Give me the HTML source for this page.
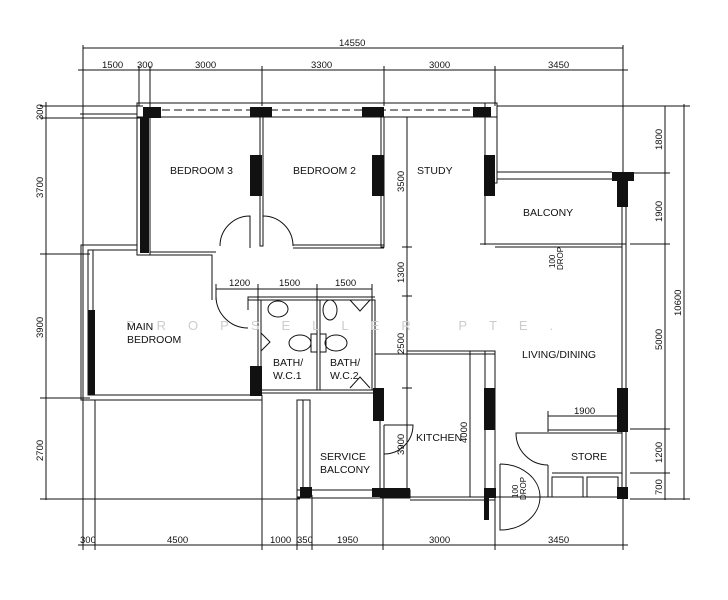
<!DOCTYPE html>
<html><head><meta charset="utf-8"><style>
html,body{margin:0;padding:0;background:#fff;}
svg{display:block}
text{font-family:"Liberation Sans Narrow","Liberation Sans",sans-serif;font-size:10.5px;fill:#111}
.d{font-size:9.5px}
</style></head><body>
<svg width="728" height="600" viewBox="0 0 728 600" xmlns="http://www.w3.org/2000/svg">
<g stroke="#111" stroke-width="1" fill="none">
<!-- top dims -->
<line x1="83" y1="48" x2="623" y2="48"/>
<line x1="78" y1="70" x2="628" y2="70"/>
<line x1="83" y1="45" x2="83" y2="400"/>
<line x1="139" y1="66" x2="139" y2="106"/>
<line x1="150" y1="66" x2="150" y2="106"/>
<line x1="262" y1="66" x2="262" y2="106"/>
<line x1="384" y1="66" x2="384" y2="106"/>
<line x1="495" y1="66" x2="495" y2="106"/>
<line x1="623" y1="45" x2="623" y2="175"/>
<!-- left dims -->
<line x1="46" y1="102" x2="46" y2="500"/>
<line x1="40" y1="106" x2="143" y2="106"/>
<line x1="40" y1="118" x2="143" y2="118"/>
<line x1="40" y1="254" x2="90" y2="254"/>
<line x1="40" y1="398" x2="90" y2="398"/>
<line x1="40" y1="499" x2="300" y2="499"/>
<!-- right dims -->
<line x1="665" y1="106" x2="665" y2="500"/>
<line x1="684" y1="104" x2="684" y2="500"/>
<line x1="497" y1="106" x2="690" y2="106"/>
<line x1="630" y1="173" x2="670" y2="173"/>
<line x1="630" y1="244" x2="670" y2="244"/>
<line x1="630" y1="429" x2="670" y2="429"/>
<line x1="630" y1="473" x2="670" y2="473"/>
<line x1="630" y1="499" x2="690" y2="499"/>
<!-- bottom dims -->
<line x1="78" y1="545" x2="628" y2="545"/>
<line x1="83" y1="400" x2="83" y2="550"/>
<line x1="95" y1="400" x2="95" y2="550"/>
<line x1="262" y1="395" x2="262" y2="550"/>
<line x1="297" y1="495" x2="297" y2="550"/>
<line x1="312" y1="495" x2="312" y2="550"/>
<line x1="383" y1="495" x2="383" y2="550"/>
<line x1="495" y1="495" x2="495" y2="550"/>
<line x1="623" y1="495" x2="623" y2="550"/>
<!-- inner dims -->
<line x1="407" y1="117" x2="407" y2="498"/>
<line x1="402" y1="247" x2="412" y2="247"/>
<line x1="402" y1="296" x2="412" y2="296"/>
<line x1="402" y1="388" x2="412" y2="388"/>
<line x1="216" y1="289" x2="372" y2="289"/>
<line x1="216" y1="284" x2="216" y2="300"/>
<line x1="258" y1="284" x2="258" y2="300"/>
<line x1="317" y1="284" x2="317" y2="300"/>
<line x1="372" y1="284" x2="372" y2="300"/>
<line x1="470" y1="351" x2="470" y2="497"/>
<line x1="548" y1="416" x2="617" y2="416"/>
<line x1="548" y1="411" x2="548" y2="432"/>

<!-- top wall -->
<rect x="137" y="103" width="360" height="14"/>
<line x1="150" y1="110" x2="485" y2="110" stroke-dasharray="8,4"/>
<line x1="80" y1="114" x2="137" y2="114"/>
<!-- left bedroom3 wall -->
<rect x="137" y="103" width="13" height="152"/>
<!-- main bedroom outer -->
<polyline points="137,245 81,245 81,400 262,400"/>
<polyline points="137,250 88,250 88,395 262,395"/>
<line x1="93" y1="250" x2="93" y2="395"/>
<!-- bedroom partitions -->
<rect x="260" y="117" width="3" height="129"/>
<rect x="381" y="117" width="3" height="130"/>
<line x1="293" y1="245" x2="384" y2="245"/>
<line x1="293" y1="248" x2="384" y2="248"/>
<line x1="250" y1="245" x2="250" y2="248"/>
<!-- corridor left wall segment -->
<polyline points="150,255 212,255 212,300"/>
<polyline points="150,252 216,252"/>
<!-- door arcs bedrooms -->
<path d="M250,245 L250,216 A30,30 0 0 0 220,246"/>
<path d="M263,216 A30,30 0 0 1 293,246"/>
<path d="M216,296 A32,32 0 0 0 248,328"/>
<!-- study right / balcony -->
<rect x="485" y="103" width="12" height="80"/>
<line x1="485" y1="183" x2="485" y2="245"/>
<line x1="497" y1="172" x2="612" y2="172"/>
<line x1="497" y1="179" x2="612" y2="179"/>
<line x1="480" y1="244" x2="626" y2="244"/>
<line x1="495" y1="247" x2="622" y2="247"/>
<line x1="622" y1="200" x2="622" y2="497"/>
<line x1="626" y1="200" x2="626" y2="497"/>
<!-- baths -->
<polyline points="248,310 248,297 375,297"/>
<line x1="248" y1="300" x2="375" y2="300"/>
<rect x="258" y="300" width="3" height="90"/>
<rect x="317" y="300" width="3" height="90"/>
<rect x="372" y="300" width="3" height="90"/>
<line x1="262" y1="390" x2="375" y2="390"/>
<line x1="262" y1="393" x2="375" y2="393"/>
<ellipse cx="278" cy="309" rx="10" ry="8"/>
<ellipse cx="300" cy="343" rx="11" ry="8"/>
<rect x="311" y="334" width="6" height="18"/>
<ellipse cx="336" cy="343" rx="11" ry="8"/>
<rect x="320" y="334" width="6" height="18"/>
<ellipse cx="330" cy="310" rx="7" ry="10"/>
<polyline points="350,300 360,311 370,300"/>
<polyline points="350,388 360,377 370,388"/>
<polyline points="261,333 270,342 261,351"/>
<!-- service balcony -->
<rect x="297" y="400" width="13" height="97"/>
<line x1="303" y1="400" x2="303" y2="497"/>
<rect x="297" y="490" width="113" height="8"/>
<line x1="380" y1="393" x2="380" y2="492"/>
<line x1="384" y1="425" x2="384" y2="492"/>
<path d="M384,425 L413,425 A29,29 0 0 1 384,454"/>
<!-- kitchen -->
<line x1="407" y1="351" x2="495" y2="351"/>
<line x1="375" y1="354" x2="495" y2="354"/>
<rect x="485" y="351" width="10" height="146"/>
<line x1="380" y1="497" x2="495" y2="497"/>
<line x1="410" y1="500" x2="495" y2="500"/>
<!-- store -->
<line x1="548" y1="430" x2="622" y2="430"/>
<line x1="548" y1="433" x2="622" y2="433"/>
<line x1="548" y1="465" x2="548" y2="497"/>
<line x1="552" y1="473" x2="622" y2="473"/>
<rect x="552" y="477" width="31" height="20"/>
<rect x="587" y="477" width="31" height="20"/>
<path d="M548,465 A32,32 0 0 1 516,433 L548,433"/>
<line x1="495" y1="497" x2="622" y2="497"/>
<!-- entry door -->
<path d="M500,464 L500,530 A40,33 0 0 0 500,464"/>
</g>
<!-- black columns -->
<g fill="#111">
<rect x="143" y="107" width="18" height="11"/>
<rect x="140" y="118" width="9" height="135"/>
<rect x="250" y="107" width="22" height="10"/>
<rect x="362" y="107" width="22" height="10"/>
<rect x="473" y="107" width="18" height="10"/>
<rect x="250" y="155" width="12" height="41"/>
<rect x="372" y="155" width="12" height="41"/>
<rect x="484" y="155" width="11" height="41"/>
<rect x="612" y="172" width="22" height="9"/>
<rect x="617" y="181" width="11" height="26"/>
<rect x="88" y="310" width="7" height="85"/>
<rect x="250" y="366" width="12" height="30"/>
<rect x="300" y="487" width="12" height="10"/>
<rect x="373" y="388" width="11" height="33"/>
<rect x="372" y="488" width="38" height="9"/>
<rect x="484" y="388" width="11" height="42"/>
<rect x="617" y="388" width="11" height="44"/>
<rect x="484" y="488" width="12" height="10"/>
<rect x="484" y="498" width="5" height="22"/>
<rect x="617" y="487" width="11" height="12"/>
</g>
<!-- watermark -->
<text x="126" y="330" style="fill:#ccc;font-size:13px;letter-spacing:22px">PROPSELLER PTE.</text>
<!-- labels -->
<text x="170" y="174">BEDROOM 3</text>
<text x="293" y="174">BEDROOM 2</text>
<text x="417" y="174">STUDY</text>
<text x="523" y="216">BALCONY</text>
<text x="127" y="330">MAIN</text>
<text x="127" y="343">BEDROOM</text>
<text x="273" y="366">BATH/</text>
<text x="273" y="379">W.C.1</text>
<text x="330" y="366">BATH/</text>
<text x="330" y="379">W.C.2</text>
<text x="522" y="358">LIVING/DINING</text>
<text x="416" y="441">KITCHEN</text>
<text x="320" y="460">SERVICE</text>
<text x="320" y="473">BALCONY</text>
<text x="571" y="460">STORE</text>
<g class="d">
<text x="339" y="46" class="d">14550</text>
<text x="102" y="68" class="d">1500</text>
<text x="137" y="68" class="d">300</text>
<text x="195" y="68" class="d">3000</text>
<text x="311" y="68" class="d">3300</text>
<text x="429" y="68" class="d">3000</text>
<text x="548" y="68" class="d">3450</text>
<text x="80" y="543" class="d">300</text>
<text x="167" y="543" class="d">4500</text>
<text x="270" y="543" class="d">1000</text>
<text x="297" y="543" class="d">350</text>
<text x="337" y="543" class="d">1950</text>
<text x="429" y="543" class="d">3000</text>
<text x="548" y="543" class="d">3450</text>
<text x="229" y="286" class="d">1200</text>
<text x="279" y="286" class="d">1500</text>
<text x="335" y="286" class="d">1500</text>
<text x="574" y="414" class="d">1900</text>
</g>
<g style="font-size:9.5px">
<text transform="translate(43,120) rotate(-90)" class="d">300</text>
<text transform="translate(43,198) rotate(-90)" class="d">3700</text>
<text transform="translate(43,338) rotate(-90)" class="d">3900</text>
<text transform="translate(43,461) rotate(-90)" class="d">2700</text>
<text transform="translate(404,192) rotate(-90)" class="d">3500</text>
<text transform="translate(404,283) rotate(-90)" class="d">1300</text>
<text transform="translate(404,354) rotate(-90)" class="d">2500</text>
<text transform="translate(404,455) rotate(-90)" class="d">3900</text>
<text transform="translate(467,443) rotate(-90)" class="d">4000</text>
<text transform="translate(662,150) rotate(-90)" class="d">1800</text>
<text transform="translate(662,222) rotate(-90)" class="d">1900</text>
<text transform="translate(662,350) rotate(-90)" class="d">5000</text>
<text transform="translate(662,463) rotate(-90)" class="d">1200</text>
<text transform="translate(662,495) rotate(-90)" class="d">700</text>
<text transform="translate(681,316) rotate(-90)" class="d">10600</text>
<text transform="translate(555,268) rotate(-90)" style="font-size:8px">100</text>
<text transform="translate(563,270) rotate(-90)" style="font-size:8px">DROP</text>
<text transform="translate(518,498) rotate(-90)" style="font-size:8px">100</text>
<text transform="translate(526,500) rotate(-90)" style="font-size:8px">DROP</text>
</g>
</svg>
</body></html>
